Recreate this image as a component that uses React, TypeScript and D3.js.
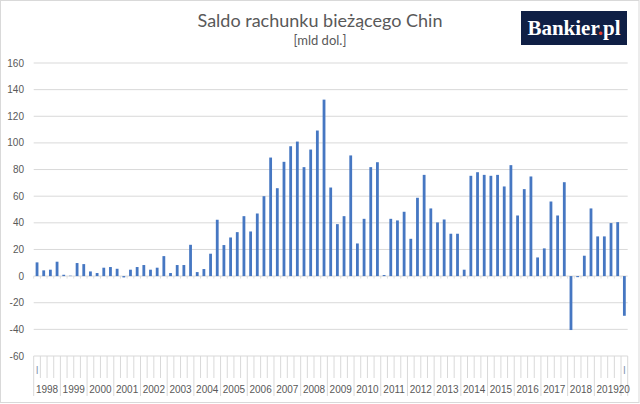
import React from "react";
import * as d3 from "d3";

const years = ["1998","1999","2000","2001","2002","2003","2004","2005","2006","2007","2008","2009","2010","2011","2012","2013","2014","2015","2016","2017","2018","2019","2020"];
const quarterLabels = ["I","II","III","IV"];
const values = [
  10.3, 4.3, 4.8, 10.8,
  1.0, 0.3, 9.8, 9.0,
  3.5, 2.3, 6.3, 6.8,
  5.5, -1.0, 4.8, 6.8,
  8.3, 4.8, 6.3, 15.0,
  2.3, 8.3, 8.3, 23.5,
  3.0, 5.3, 16.8, 42.3,
  23.3, 29.0, 33.0, 45.0,
  33.5, 47.0, 60.0, 89.0,
  66.0, 85.8, 97.5, 101.0,
  81.8, 95.0, 109.3, 132.5,
  66.5, 39.0, 45.0, 90.6,
  24.5, 43.0, 81.8, 85.5,
  0.8, 43.0, 41.8, 48.3,
  28.0, 58.8, 76.0, 50.8,
  40.3, 42.5, 31.8, 31.8,
  4.8, 75.3, 78.0, 76.0,
  75.3, 76.0, 67.3, 83.3,
  45.5, 65.3, 74.8, 14.0,
  20.8, 56.0, 45.5, 70.5,
  -40.5, -0.8, 15.3, 50.8,
  29.8, 29.8, 39.8, 40.5,
  -29.8,
];
const yTicks = [160, 140, 120, 100, 80, 60, 40, 20, 0, -20, -40, -60];
const title = "Saldo rachunku bieżącego Chin";
const subtitle = "[mld dol.]";

const W = 640;
const H = 404;
const gray = "#595959";
const grid = "#d9d9d9";

type Cat = { key: string; year: string; q: number; value: number };
const cats: Cat[] = values.map((v, i) => ({
  key: `${years[Math.floor(i / 4)]}-${quarterLabels[i % 4]}`,
  year: years[Math.floor(i / 4)],
  q: i % 4,
  value: v,
}));

export default function App() {
  const x = d3.scaleBand<string>().domain(cats.map((c) => c.key)).range([33.7, 627.7]).padding(0);
  const y = d3.scaleLinear().domain([-60, 160]).range([356, 63]);
  const step = x.step();
  const barW = 2.8;
  const axisTop = y(-60);
  const yearGroups = years.map((yr) => {
    const members = cats.filter((c) => c.year === yr);
    const x0 = x(members[0].key)!;
    const x1 = x(members[members.length - 1].key)! + step;
    return { yr, x0, x1 };
  });

  return (
    <svg width={W} height={H} style={{ position: "absolute", left: 0, top: 0, background: "#fff" }}>
      <rect x={0.5} y={0.5} width={W - 1.5} height={H - 2} fill="#fff" stroke={grid} />
      <text x={320} y={26.5} textAnchor="middle" fontFamily="Lato, 'Open Sans', sans-serif" fontSize={18} fill={gray}>{title}</text>
      <text x={320} y={45} textAnchor="middle" fontFamily="Lato, 'Open Sans', sans-serif" fontSize={13} fill={gray}>{subtitle}</text>

      <rect x={521} y={11} width={106} height={34} fill="#0f1f45" />
      <text x={574} y={35} textAnchor="middle" fontFamily="'Liberation Serif', 'DejaVu Serif', serif" fontWeight="bold" fontSize={21} fill="#fff">
        Bankier<tspan fill="#e8412c">.</tspan>pl
      </text>

      {yTicks.map((t) => (
        <g key={t}>
          {t !== 0 && t !== -60 && (
            <line x1={33.7} x2={627.7} y1={y(t)} y2={y(t)} stroke={grid} strokeWidth={1} />
          )}
          <text x={24} y={y(t) + 3.5} textAnchor="end" fontFamily="'Liberation Sans', Arial, sans-serif" fontSize={10} fill={gray}>{t}</text>
        </g>
      ))}

      {/* zero axis line with minor ticks */}
      <line x1={33.7} x2={627.7} y1={y(0)} y2={y(0)} stroke={grid} strokeWidth={1} />
      {cats.map((c) => (
        <line key={"zt" + c.key} x1={x(c.key)!} x2={x(c.key)!} y1={y(0)} y2={y(0) + 2.5} stroke={grid} strokeWidth={0.8} />
      ))}

      {/* bars */}
      {cats.map((c) => (
        <rect
          key={c.key}
          x={x(c.key)! + step / 2 - barW / 2}
          y={y(Math.max(0, c.value))}
          width={barW}
          height={Math.abs(y(c.value) - y(0))}
          fill="#4677c2"
        />
      ))}

      {/* category axis at bottom */}
      <line x1={33.7} x2={627.7} y1={axisTop} y2={axisTop} stroke={grid} strokeWidth={1} />
      {cats.map((c) =>
        c.q !== 0 ? (
          <line key={"qt" + c.key} x1={x(c.key)!} x2={x(c.key)!} y1={axisTop} y2={378} stroke={grid} strokeWidth={1} />
        ) : null
      )}
      {yearGroups.map((g) => (
        <line key={"yl" + g.yr} x1={g.x0} x2={g.x0} y1={axisTop} y2={396} stroke={grid} strokeWidth={1} />
      ))}
      <line x1={627.7} x2={627.7} y1={axisTop} y2={396} stroke={grid} strokeWidth={1} />
      {[cats[0], cats[cats.length - 1]].map((c) => (
        <text key={"ql" + c.key} x={x(c.key)! + step / 2} y={373.5} textAnchor="middle" fontFamily="'Liberation Sans', Arial, sans-serif" fontSize={10} fill="#8496b0">{quarterLabels[c.q]}</text>
      ))}
      {yearGroups.map((g) => (
        <text key={"yt" + g.yr} x={(g.x0 + g.x1) / 2} y={393} textAnchor="middle" fontFamily="'Liberation Sans', Arial, sans-serif" fontSize={10} fill={gray}>{g.yr === "2020" ? "20" : g.yr}</text>
      ))}
    </svg>
  );
}
